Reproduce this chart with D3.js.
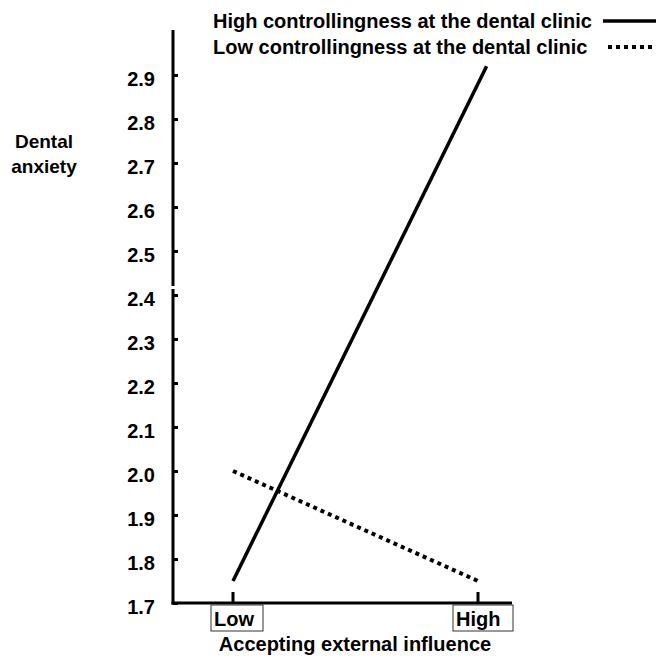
<!DOCTYPE html>
<html lang="en">
<head>
    <meta charset="UTF-8">
    <script src="https://cdn.jsdelivr.net/npm/d3@7"></script>
    <title>Dental anxiety</title>
    <style>
        html, body {
            margin: 0px;
            padding: 0px;
            background-color: #ffffff;
        }
        svg text {
            font-family: "Liberation Sans", Arial, sans-serif;
            font-weight: bold;
            font-size: 20px;
        }
    </style>
</head>
<body>
    <div id="chart"></div>
    <script>
        // data
        let levels = ['Low', 'High'];
        let yTicks = [1.7, 1.8, 1.9, 2.0, 2.1, 2.2, 2.3, 2.4, 2.5, 2.6, 2.7, 2.8, 2.9];
        // x: 0 = Low, 1 = High (the solid line runs a little past High)
        let highControlX = [0, 1.035];
        let highControlY = [1.75, 2.92];
        let lowControlX = [0, 1];
        let lowControlY = [2.0, 1.75];

        let width = 656;
        let height = 658;

        let svg = d3.select('#chart').append('svg')
            .attr('width', width)
            .attr('height', height);

        let y = d3.scaleLinear().domain([1.7, 2.9]).range([603, 75]);
        let x = d3.scaleLinear().domain([0, 1]).range([233, 478]);

        let axisX0 = 173;
        let axisY0 = y(1.7);

        // y axis line, with the little break near 2.4
        svg.append('line')
            .attr('x1', axisX0).attr('x2', axisX0)
            .attr('y1', 30).attr('y2', 286)
            .attr('stroke', 'black').attr('stroke-width', 3);
        svg.append('line')
            .attr('x1', axisX0).attr('x2', axisX0)
            .attr('y1', 289).attr('y2', axisY0 + 1.5)
            .attr('stroke', 'black').attr('stroke-width', 3);

        let yAxis = d3.axisRight(y)
            .tickValues(yTicks)
            .tickSize(5)
            .tickFormat(d3.format('.1f'));
        let gy = svg.append('g')
            .attr('transform', `translate(${axisX0},0)`)
            .call(yAxis);
        gy.select('.domain').remove();
        gy.selectAll('.tick line').attr('stroke', 'black').attr('stroke-width', 3);
        gy.selectAll('.tick text')
            .attr('x', -18)
            .attr('dy', '0.5em')
            .attr('text-anchor', 'end')
            .attr('fill', 'black')
            .style('font-size', '20px');

        // x axis line
        svg.append('line')
            .attr('x1', axisX0 - 1.5).attr('x2', 512)
            .attr('y1', axisY0).attr('y2', axisY0)
            .attr('stroke', 'black').attr('stroke-width', 3);

        levels.forEach((lv, i) => {
            let px = x(i);
            svg.append('line')
                .attr('x1', px).attr('x2', px)
                .attr('y1', axisY0).attr('y2', axisY0 - 11)
                .attr('stroke', 'black').attr('stroke-width', 3);
        });

        // boxed category labels
        let boxes = [{x0: 211, x1: 263}, {x0: 453, x1: 513}];
        levels.forEach((lv, i) => {
            let b = boxes[i];
            svg.append('rect')
                .attr('x', b.x0).attr('y', 605)
                .attr('width', b.x1 - b.x0).attr('height', 26)
                .attr('fill', 'white')
                .attr('stroke', '#333').attr('stroke-width', 1);
            svg.append('text')
                .attr('x', b.x0 + 3)
                .attr('y', 626)
                .text(lv);
        });

        // lines
        let line = d3.line().x(d => x(d[0])).y(d => y(d[1]));
        svg.append('path')
            .datum(d3.zip(highControlX, highControlY))
            .attr('d', line)
            .attr('fill', 'none')
            .attr('stroke', 'black')
            .attr('stroke-width', 3.5);
        svg.append('path')
            .datum(d3.zip(lowControlX, lowControlY))
            .attr('d', line)
            .attr('fill', 'none')
            .attr('stroke', 'black')
            .attr('stroke-width', 4)
            .attr('stroke-dasharray', '4,4');

        // axis titles
        svg.append('text')
            .attr('x', 44).attr('y', 148)
            .attr('text-anchor', 'middle')
            .style('font-size', '19px')
            .text('Dental');
        svg.append('text')
            .attr('x', 44).attr('y', 173)
            .attr('text-anchor', 'middle')
            .style('font-size', '19px')
            .text('anxiety');
        svg.append('text')
            .attr('x', 355).attr('y', 651)
            .attr('text-anchor', 'middle')
            .text('Accepting external influence');

        // legend
        svg.append('text')
            .attr('x', 213).attr('y', 28)
            .text('High controllingness at the dental clinic');
        svg.append('line')
            .attr('x1', 603).attr('x2', 656)
            .attr('y1', 21).attr('y2', 21)
            .attr('stroke', 'black').attr('stroke-width', 3.5);
        svg.append('text')
            .attr('x', 213).attr('y', 54)
            .text('Low controllingness at the dental clinic');
        svg.append('line')
            .attr('x1', 608).attr('x2', 656)
            .attr('y1', 47).attr('y2', 47)
            .attr('stroke', 'black').attr('stroke-width', 4)
            .attr('stroke-dasharray', '4,4');
    </script>
</body>
</html>
